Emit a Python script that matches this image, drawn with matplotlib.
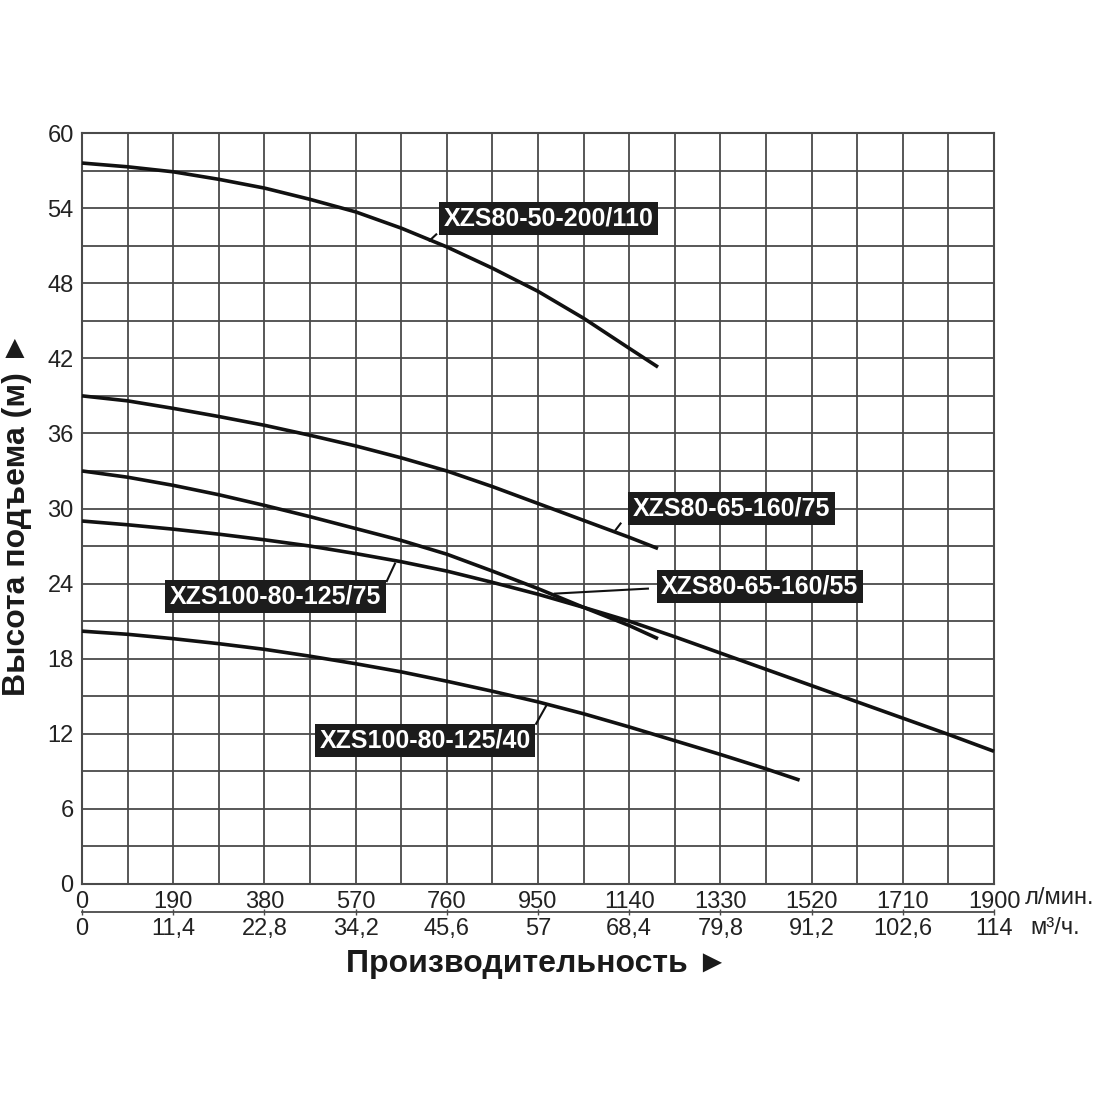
import numpy as np
import matplotlib.pyplot as plt

plt.rcParams['font.family'] = ['Liberation Sans', 'DejaVu Sans']

# расход, л/мин (точки кривых)
q_110 = [0, 95, 190, 285, 380, 475, 570, 665, 760, 855, 950, 1045, 1140, 1200]
h_110 = [57.6, 57.3, 56.9, 56.3, 55.6, 54.7, 53.7, 52.4, 50.9, 49.2, 47.35, 45.2, 42.8, 41.3]

q_75 = [0, 95, 190, 285, 380, 475, 570, 665, 760, 855, 950, 1045, 1140, 1200]
h_75 = [39.0, 38.6, 38.0, 37.35, 36.65, 35.85, 35.0, 34.05, 33.0, 31.75, 30.4, 29.05, 27.7, 26.8]

q_55 = [0, 95, 190, 285, 380, 475, 570, 665, 760, 855, 950, 1045, 1140, 1200]
h_55 = [33.0, 32.5, 31.85, 31.1, 30.25, 29.35, 28.4, 27.45, 26.35, 25.0, 23.6, 22.1, 20.65, 19.6]

q_100_75 = [0, 95, 190, 285, 380, 475, 570, 665, 760, 855, 950, 1045, 1140, 1235,
            1330, 1425, 1520, 1615, 1710, 1805, 1900]
h_100_75 = [29.0, 28.7, 28.35, 27.95, 27.5, 27.0, 26.4, 25.75, 25.0, 24.1, 23.15, 22.1, 21.0, 19.75,
            18.45, 17.15, 15.85, 14.55, 13.25, 11.95, 10.6]

q_100_40 = [0, 95, 190, 285, 380, 475, 570, 665, 760, 855, 950, 1045, 1140, 1235, 1330, 1425, 1495]
h_100_40 = [20.2, 19.95, 19.6, 19.2, 18.75, 18.2, 17.6, 16.95, 16.2, 15.4, 14.55, 13.6, 12.55, 11.45, 10.35, 9.2, 8.3]

# подписи кривых
names = ['XZS80-50-200/110', 'XZS80-65-160/75', 'XZS80-65-160/55',
         'XZS100-80-125/75', 'XZS100-80-125/40']
label_pos = [(972, 53.2), (1353, 30.0), (1412, 23.8), (403, 23.0), (715, 11.5)]
leader_from = [(738, 51.9), (1122, 28.8), (1179, 23.6), (635, 24.2), (946, 12.8)]
leader_to = [(724, 51.4), (1112, 28.3), (985, 23.2), (652, 25.6), (968, 14.3)]

# оси
lpm_ticks = [0, 190, 380, 570, 760, 950, 1140, 1330, 1520, 1710, 1900]
m3h_labels = ['0', '11,4', '22,8', '34,2', '45,6', '57', '68,4', '79,8', '91,2', '102,6', '114']
h_ticks = [0, 6, 12, 18, 24, 30, 36, 42, 48, 54, 60]

grid_col = '#4a4a4a'

fig = plt.figure(figsize=(11, 11), dpi=100)
ax = fig.add_axes([82/1100, 1-884/1100, 912/1100, 751/1100])

ax.set_xlim(0, 1900)
ax.set_ylim(0, 60)

ax.set_xticks(np.arange(0, 1901, 95), minor=True)
ax.set_yticks(np.arange(0, 61, 3), minor=True)
ax.set_xticks(lpm_ticks)
ax.set_xticklabels([str(v) for v in lpm_ticks])
ax.set_yticks(h_ticks)
ax.set_yticklabels([str(v) for v in h_ticks])
ax.grid(True, which='both', color=grid_col, linewidth=1.3)
ax.set_axisbelow(True)
ax.tick_params(which='both', length=0)
ax.tick_params(axis='x', labelsize=17, pad=5, labelcolor='#222222')
ax.tick_params(axis='y', labelsize=17, pad=6, labelcolor='#222222')
for s in ax.spines.values():
    s.set_color(grid_col)
    s.set_linewidth(1.5)

# кривые
for q, h in [(q_110, h_110), (q_75, h_75), (q_55, h_55), (q_100_75, h_100_75), (q_100_40, h_100_40)]:
    ax.plot(q, h, color='#111111', linewidth=2.6, solid_capstyle='butt',
            solid_joinstyle='round', clip_on=False, zorder=3)

# выноски и подписи
for name, (lx, ly), (fx, fy), (tx, ty) in zip(names, label_pos, leader_from, leader_to):
    ax.plot([fx, tx], [fy, ty], color='#111111', linewidth=1.5, zorder=3)
    ax.text(lx, ly, name, color='white', fontsize=18, fontweight='bold',
            ha='center', va='center', zorder=4,
            bbox=dict(boxstyle='square,pad=0.18', fc='#1c1c1c', ec='none'))

# вторая шкала м3/ч
sec = ax.secondary_xaxis(-0.0375, functions=(lambda x: x * 0.06, lambda x: x / 0.06))
sec.set_xticks([v * 0.06 for v in lpm_ticks])
sec.set_xticklabels(m3h_labels)
sec.tick_params(axis='x', direction='inout', length=5, width=1, color=grid_col,
                labelsize=17, pad=2, labelcolor='#222222')
sec.spines['bottom'].set_color(grid_col)
sec.spines['bottom'].set_linewidth(1.3)

fig.text(1025/1100, 1-898/1100, 'л/мин.', fontsize=17, ha='left', va='center', color='#222222')
fig.text(1030/1100, 1-928/1100, 'м³/ч.', fontsize=17, ha='left', va='center', color='#222222')

fig.text(537/1100, 1-972/1100, 'Производительность ►', fontsize=23, fontweight='bold',
         ha='center', va='baseline', color='#1a1a1a')
fig.text(17/1100, 1-514/1100, 'Высота подъема (м) ►', fontsize=23, fontweight='bold',
         rotation=90, ha='center', va='center', color='#1a1a1a')

fig.savefig('out.png', dpi=100, facecolor='white')
